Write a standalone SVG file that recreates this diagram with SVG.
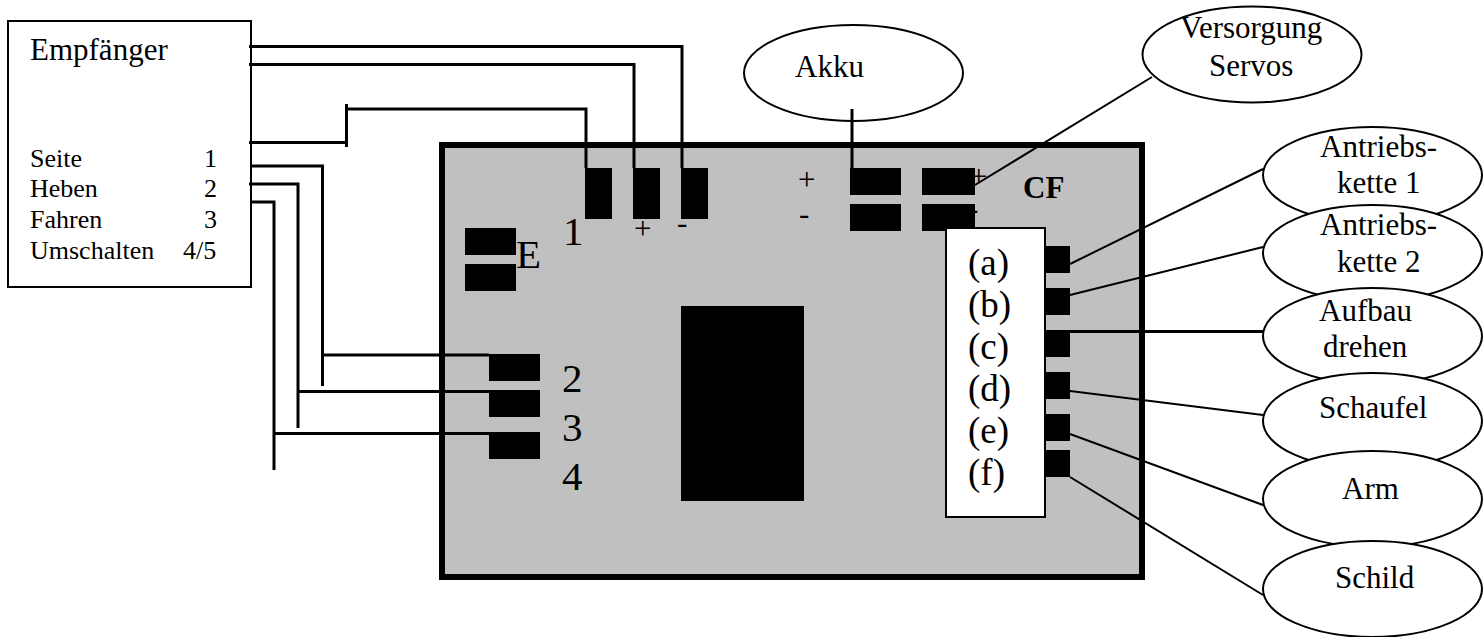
<svg xmlns="http://www.w3.org/2000/svg" width="1484" height="637" viewBox="0 0 1484 637">
<style>
text{font-family:"Liberation Serif","Times New Roman",serif;fill:#000}
.s{font-size:26px}.m{font-size:31px}.p{font-size:37px}.l{font-size:41px}
.b{font-weight:bold}
.n{fill:#fff;stroke:#000;stroke-width:2}
.k{fill:#000}
.w{fill:none;stroke:#000;stroke-width:3}
.t{fill:none;stroke:#000;stroke-width:2}
</style>
<rect width="1484" height="637" fill="#fff"/>
<g id="empfaenger">
<rect class="n" x="8" y="21" width="243" height="266"/>
<text class="m" x="30" y="60">Empfänger</text>
<text class="s" x="30" y="167">Seite</text><text class="s" x="204" y="167">1</text>
<text class="s" x="30" y="197">Heben</text><text class="s" x="204" y="197">2</text>
<text class="s" x="30" y="228">Fahren</text><text class="s" x="204" y="228">3</text>
<text class="s" x="30" y="259">Umschalten</text><text class="s" x="183" y="259">4/5</text>
</g>
<g id="platine">
<rect x="442" y="145" width="700" height="432" fill="#c0c0c0" stroke="#000" stroke-width="6"/>
<rect class="k" x="681" y="306" width="123" height="195"/>
<text class="l" x="563" y="245">1</text>
<text class="l" x="516" y="268">E</text>
<text class="l" x="562" y="392">2</text>
<text class="l" x="562" y="441">3</text>
<text class="l" x="562" y="490">4</text>
<text class="m" x="634" y="239">+</text>
<text class="m" x="677" y="233">-</text>
<text class="m" x="798" y="190">+</text>
<text class="m" x="799" y="224">-</text>
<text class="m" x="970" y="187">+</text>
<text class="m" x="968" y="219">-</text>
<text class="m b" x="1023" y="198">CF</text>
<g class="k">
<rect x="585" y="168" width="27" height="51"/>
<rect x="633" y="168" width="27" height="51"/>
<rect x="681" y="168" width="27" height="51"/>
<rect x="465" y="228" width="51" height="27"/>
<rect x="465" y="264" width="51" height="27"/>
<rect x="489" y="354" width="51" height="27"/>
<rect x="489" y="390" width="51" height="27"/>
<rect x="489" y="432" width="51" height="27"/>
<rect x="850" y="168" width="51" height="27"/>
<rect x="850" y="204" width="51" height="27"/>
<rect x="922" y="168" width="53" height="27"/>
<rect x="922" y="204" width="53" height="27"/>
<rect x="1043" y="246" width="27" height="27"/>
<rect x="1043" y="288" width="27" height="27"/>
<rect x="1043" y="330" width="27" height="27"/>
<rect x="1043" y="372" width="27" height="27"/>
<rect x="1043" y="414" width="27" height="27"/>
<rect x="1043" y="450" width="27" height="27"/>
</g>
</g>
<g id="ausgaenge">
<rect class="n" x="946" y="228" width="99" height="289"/>
<text class="p" x="968" y="275">(a)</text>
<text class="p" x="968" y="317">(b)</text>
<text class="p" x="968" y="359">(c)</text>
<text class="p" x="968" y="401">(d)</text>
<text class="p" x="968" y="443">(e)</text>
<text class="p" x="968" y="485">(f)</text>
</g>
<g id="akku"><ellipse class="n" cx="853.500" cy="73" rx="109.500" ry="48"/><text class="m" x="795" y="77">Akku</text></g>
<g id="versorgung"><ellipse class="n" cx="1252" cy="54.500" rx="109.500" ry="48"/><text class="m" x="1180" y="38">Versorgung</text><text class="m" x="1209" y="76">Servos</text></g>
<g id="kette1"><ellipse class="n" cx="1372.500" cy="175" rx="109.500" ry="48"/><text class="m" x="1320" y="157">Antriebs-</text><text class="m" x="1337" y="193">kette 1</text></g>
<g id="kette2"><ellipse class="n" cx="1372.500" cy="253" rx="109.500" ry="48"/><text class="m" x="1320" y="235">Antriebs-</text><text class="m" x="1337" y="272">kette 2</text></g>
<g id="aufbau"><ellipse class="n" cx="1372.500" cy="336" rx="109.500" ry="48"/><text class="m" x="1319" y="321">Aufbau</text><text class="m" x="1323" y="357">drehen</text></g>
<g id="schaufel"><ellipse class="n" cx="1372.500" cy="421" rx="109.500" ry="48"/><text class="m" x="1319" y="418">Schaufel</text></g>
<g id="arm"><ellipse class="n" cx="1372.500" cy="499" rx="109.500" ry="48"/><text class="m" x="1342" y="499">Arm</text></g>
<g id="schild"><ellipse class="n" cx="1372.500" cy="589" rx="109.500" ry="48"/><text class="m" x="1335" y="588">Schild</text></g>
<g id="connectors">
<path class="w" d="M249 46.500H682V168"/>
<path class="w" d="M249 64.500H634V168"/>
<path class="w" d="M249 142.500H347M346.500 104V147M347 109H586V168"/>
<path class="w" d="M250 166H322.500V386M322 355H489"/>
<path class="w" d="M249 184H298V428M298 391.500H489"/>
<path class="w" d="M250 202H274V470M274 433.500H489"/>
<path class="w" d="M852 109V168"/>
<path class="t" d="M1152 77L975 185"/>
<path class="t" d="M1070 264L1263 169"/>
<path class="t" d="M1070 295L1263 247"/>
<path class="w" d="M1060 331.500H1263"/>
<path class="t" d="M1070 391L1263 415"/>
<path class="t" d="M1070 434L1263 505"/>
<path class="t" d="M1070 477L1263 595"/>
</g>
</svg>
